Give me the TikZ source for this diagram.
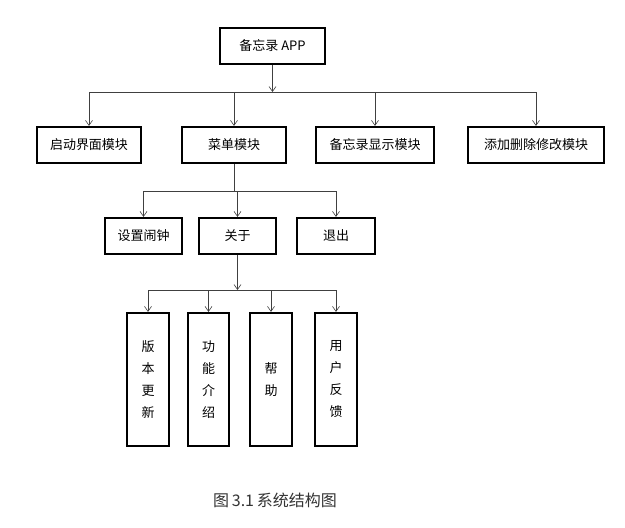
\documentclass[tikz,border=0pt]{standalone}
\usepackage{fontspec}
\setmainfont{Liberation Serif}
\newfontfamily\cjk{Noto Sans CJK SC}
\usetikzlibrary{arrows.meta}
\begin{document}
\begin{tikzpicture}[x=1pt,y=-1pt,
  bx/.style={draw,line width=2.2pt,inner sep=0pt,font=\cjk\fontsize{13}{22}\selectfont,align=center},
  ar/.style={-{Straight Barb[length=5pt,width=7pt]},line width=0.6pt,draw=black!75},
  ln/.style={line width=0.6pt,draw=black!75}]
\useasboundingbox (0,0) rectangle (625,528);
\def\bxat#1#2#3#4#5#6{\node[bx,minimum width=#4-#2,minimum height=#5-#3] (#1) at ({(#2+#4)/2},{(#3+#5)/2}) {#6};}
\bxat{app}{220}{28}{325}{64}{备忘录 APP}
\bxat{qd}{37}{127}{141}{163}{启动界面模块}
\bxat{cd}{182}{127}{286}{163}{菜单模块}
\bxat{xs}{316}{127}{434}{163}{备忘录显示模块}
\bxat{tj}{468}{127}{604}{163}{添加删除修改模块}
\bxat{sz}{105}{218}{182}{254}{设置闹钟}
\bxat{gy}{199}{218}{276}{254}{关于}
\bxat{tc}{297}{218}{375}{254}{退出}
\bxat{bb}{127}{313}{169}{446}{版\\本\\更\\新}
\bxat{gn}{188}{313}{229}{446}{功\\能\\介\\绍}
\bxat{bz}{250}{313}{292}{446}{帮\\助}
\bxat{yh}{315}{313}{357}{446}{用\\户\\反\\馈}
\coordinate (b1) at (272,92);
\coordinate (b2) at (234,191);
\coordinate (b3) at (237.5,290);
\draw[ar] (app.south) -- (app.south |- b1);
\draw[ln] (89,92) -- (536,92);
\foreach \n in {qd,cd,xs,tj} \draw[ar] (b1 -| \n.north) -- (\n.north);
\draw[ln] (cd.south) -- (cd.south |- b2);
\draw[ln] (b2 -| sz.north) -- (b2 -| tc.north);
\foreach \n in {sz,gy,tc} \draw[ar] (b2 -| \n.north) -- (\n.north);
\draw[ar] (gy.south) -- (gy.south |- b3);
\draw[ln] (b3 -| bb.north) -- (b3 -| yh.north);
\foreach \n in {bb,gn,bz,yh} \draw[ar] (b3 -| \n.north) -- (\n.north);
\node[font=\cjk\fontsize{16}{18}\selectfont,text=black!80] (cap) at (275,500) {图\,3.1\,系统结构图};
\end{tikzpicture}
\end{document}
